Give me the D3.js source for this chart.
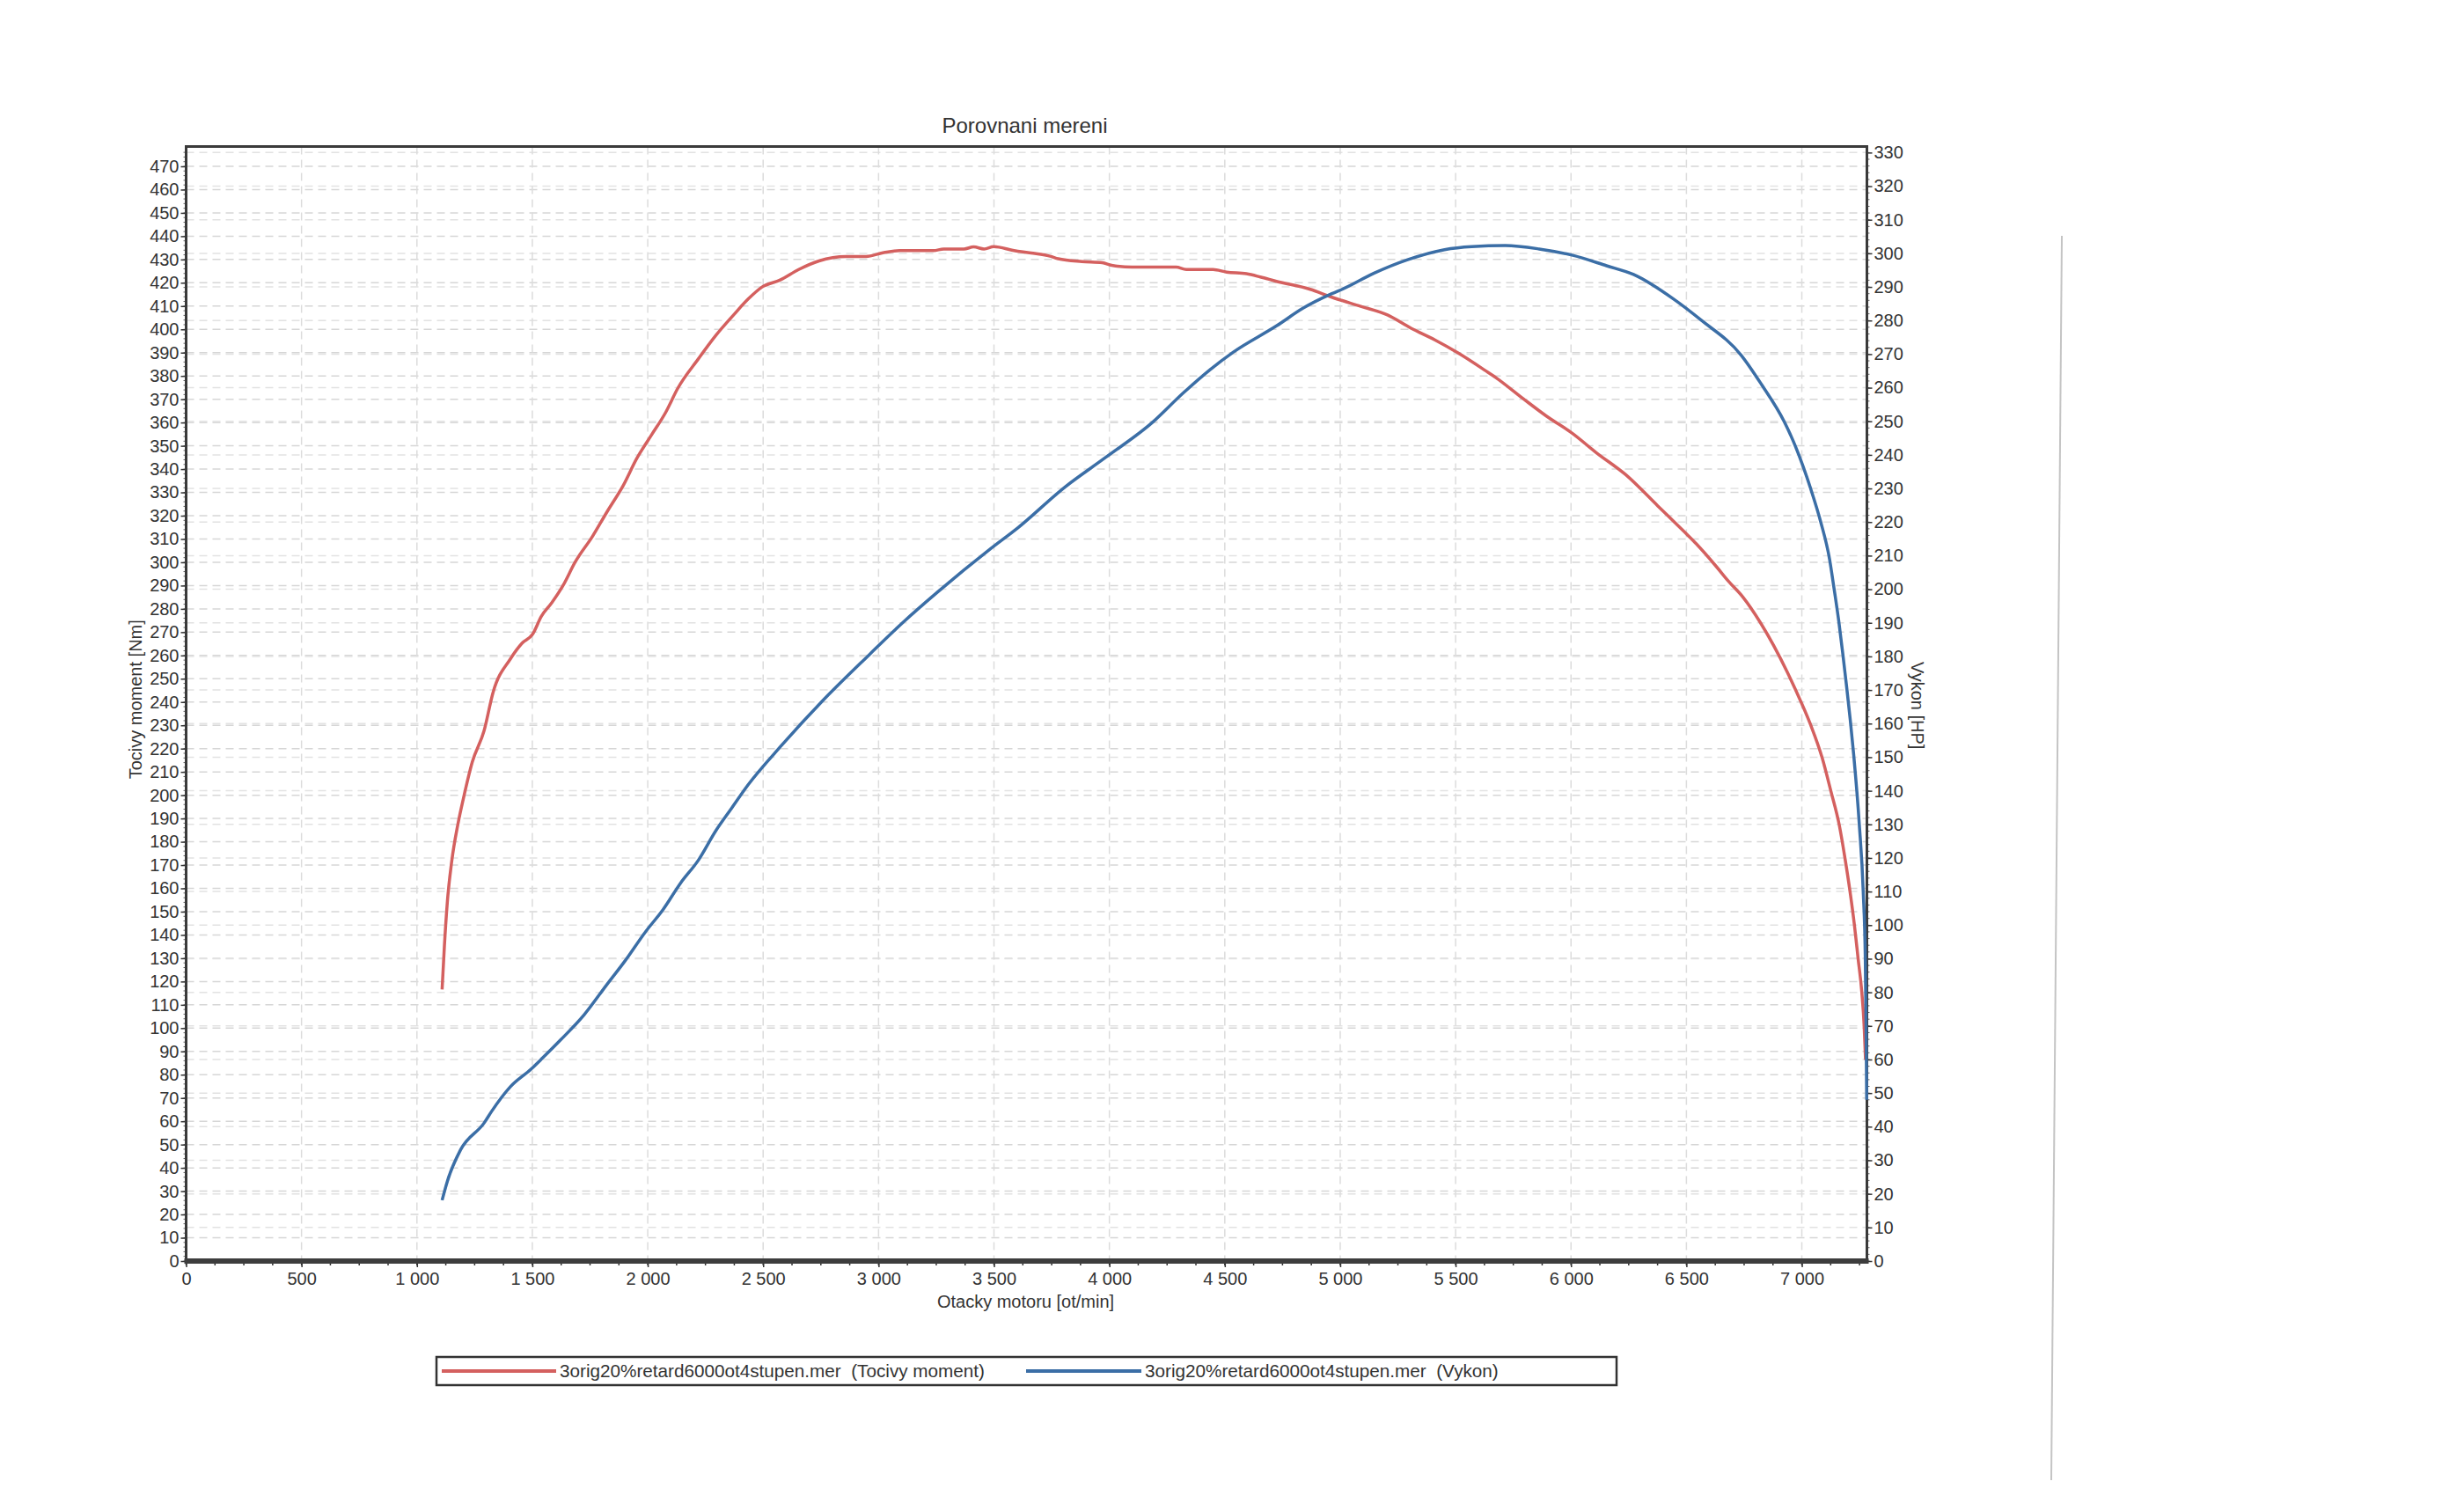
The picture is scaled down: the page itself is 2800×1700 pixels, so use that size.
<!DOCTYPE html>
<html>
<head>
<meta charset="utf-8">
<script src="https://cdn.jsdelivr.net/npm/d3@7"></script>
<style>
  html, body { margin: 0; padding: 0; background: #fff; }
  text { font-family: "Liberation Sans", Arial, sans-serif; fill: #333; }
</style>
</head>
<body>
<svg id="chart" width="2800" height="1700"></svg>
<script>
// ---------- data ----------
const chartTitle = "Porovnani mereni";
const xTitle = "Otacky motoru [ot/min]";
const leftTitle = "Tocivy moment [Nm]";
const rightTitle = "Vykon [HP]";
const legendTorque = "3orig20%retard6000ot4stupen.mer  (Tocivy moment)";
const legendPower = "3orig20%retard6000ot4stupen.mer  (Vykon)";

const xTickValues = [0,500,1000,1500,2000,2500,3000,3500,4000,4500,5000,5500,6000,6500,7000];
const leftTickValues = d3.range(0, 471, 10);
const rightTickValues = d3.range(0, 331, 10);

// Torque curve (rpm, Nm)
const torqueRpm = [1109,1119,1132,1151,1177,1202,1240,1291,1330,1405,1456,1501,1539,1584,1634,1685,1761,1825,1895,1952,2016,2079,2130,2219,2295,2372,2435,2494,2574,2654,2742,2859,2946,3019,3091,3238,3282,3370,3412,3457,3499,3587,3661,3747,3778,3881,3969,4010,4098,4289,4333,4449,4508,4594,4654,4724,4870,4964,5089,5205,5307,5410,5512,5629,5677,5792,5893,6008,6109,6237,6376,6440,6504,6542,6631,6681,6745,6821,6974,7037,7088,7126,7162,7187,7209,7228,7244,7260,7270,7276];
const torqueNm  = [116.6,135.3,154.5,171.8,187.3,198.9,214.3,227.7,244.2,258.5,265.3,269.1,276.8,282.6,290.2,300.0,311.2,321.9,333.2,344.5,354.6,364.6,374.7,387.3,397.4,406.2,413.0,418.1,421.2,425.7,429.4,431.3,431.3,432.9,433.8,433.8,434.5,434.5,435.4,434.5,435.5,433.8,432.8,431.3,430.3,429.1,428.6,427.5,426.7,426.7,425.7,425.7,424.6,423.9,422.5,420.6,417.2,413.8,409.9,406.2,400.5,395.5,389.8,382.3,379.1,370.3,362.8,355.2,347.1,337.6,324.2,318.0,311.8,308.0,298.0,292.0,285.0,274.0,245.0,230.5,216.1,201.7,187.3,172.9,158.5,144.1,129.7,115.3,100.9,86.4];

// Power curve (rpm, HP)
const powerRpm = [1109,1132,1189,1291,1323,1405,1494,1545,1622,1723,1825,1901,1990,2066,2143,2219,2295,2359,2435,2581,2756,2961,3107,3253,3486,3602,3807,3983,4187,4318,4435,4537,4724,4840,4964,5015,5147,5292,5452,5570,5715,5862,6008,6154,6271,6446,6562,6737,6825,6923,6961,7038,7082,7120,7139,7160,7178,7194,7210,7225,7249,7266,7275,7279,7281];
const powerHp  = [18.1,23.8,33.1,41.1,44.5,51.9,57.1,60.5,65.8,73.2,82.5,89.3,98.0,104.6,112.6,119.3,128.1,134.4,141.8,153.6,166.7,180.6,190.2,199.0,212.1,218.2,230.4,239.2,249.7,258.3,265.3,270.6,278.4,283.7,288.0,289.5,294.1,298.1,301.1,302.0,302.3,301.3,299.4,296.3,293.7,286.3,280.2,269.7,261.0,250.0,244.4,230.0,220.0,209.0,200.5,190.5,180.5,171.0,161.0,150.5,130.0,110.0,90.0,65.0,48.0];

// ---------- layout ----------
const svg = d3.select("#chart");
const L = 211.5, R = 2121.5, T = 166.5, B = 1433;
const ink = "#333";
const redC = "#d4605f", blueC = "#3b6ea6";

const x = d3.scaleLinear().domain([0, 7282]).range([L, R]);
const yL = d3.scaleLinear().domain([0, 478.5]).range([B, T]);
const yR = d3.scaleLinear().domain([0, 331.8]).range([B, T]);

svg.append("rect").attr("width", 2800).attr("height", 1700).attr("fill", "#fff");

// grid
const grid = svg.append("g").attr("stroke", "#d6d6d6").attr("stroke-width", 1.5).attr("stroke-dasharray", "9 6");
grid.selectAll("line.gl").data(leftTickValues.slice(1)).join("line")
  .attr("x1", L).attr("x2", R).attr("y1", d => yL(d)).attr("y2", d => yL(d));
grid.selectAll("line.gr").data(rightTickValues.slice(1)).join("line")
  .attr("x1", L).attr("x2", R).attr("y1", d => yR(d)).attr("y2", d => yR(d)).attr("stroke", "#e2e2e2");
grid.selectAll("line.gx").data(xTickValues.slice(1)).join("line")
  .attr("x1", d => x(d)).attr("x2", d => x(d)).attr("y1", T).attr("y2", B).attr("stroke", "#dcdcdc");

// minor ticks
const minorX = d3.range(0, 7282, 125);
svg.append("g").selectAll("line").data(minorX).join("line")
  .attr("x1", d => x(d)).attr("x2", d => x(d)).attr("y1", B).attr("y2", B + 5)
  .attr("stroke", ink).attr("stroke-width", 1.5);
svg.append("g").selectAll("line").data(d3.range(0, 478, 2)).join("line")
  .attr("x1", L - 3).attr("x2", L).attr("y1", d => yL(d)).attr("y2", d => yL(d))
  .attr("stroke", "#666").attr("stroke-width", 1);
svg.append("g").selectAll("line").data(d3.range(0, 331, 2)).join("line")
  .attr("x1", R).attr("x2", R + 3).attr("y1", d => yR(d)).attr("y2", d => yR(d))
  .attr("stroke", "#666").attr("stroke-width", 1);

// axes
const fmtLocale = d3.formatLocale({decimal: ".", thousands: " ", grouping: [3], currency: ["", ""]});
const fmtX = fmtLocale.format(",");

const gx = svg.append("g").attr("transform", `translate(0,${B})`)
  .call(d3.axisBottom(x).tickValues(xTickValues).tickFormat(fmtX).tickSize(7).tickPadding(6));
const gl = svg.append("g").attr("transform", `translate(${L},0)`)
  .call(d3.axisLeft(yL).tickValues(leftTickValues).tickSize(6).tickPadding(2));
const gr = svg.append("g").attr("transform", `translate(${R},0)`)
  .call(d3.axisRight(yR).tickValues(rightTickValues).tickSize(6).tickPadding(2));
[gx, gl, gr].forEach(g => {
  g.select(".domain").remove();
  g.selectAll(".tick line").attr("stroke", ink).attr("stroke-width", 1.5);
  g.selectAll(".tick text").attr("font-size", 20).attr("fill", ink)
    .style("font-family", '"Liberation Sans", Arial, sans-serif');
});

// frame
svg.append("rect").attr("x", L).attr("y", T).attr("width", R - L).attr("height", B - T)
  .attr("fill", "none").attr("stroke", "#3a3a3a").attr("stroke-width", 3);
svg.append("line").attr("x1", L - 2).attr("x2", R + 2).attr("y1", B).attr("y2", B)
  .attr("stroke", "#3d3d3d").attr("stroke-width", 6);

// curves
const lineT = d3.line().x((d, i) => x(torqueRpm[i])).y(d => yL(d)).curve(d3.curveMonotoneX);
const lineP = d3.line().x((d, i) => x(powerRpm[i])).y(d => yR(d)).curve(d3.curveMonotoneX);
svg.append("path").attr("d", lineT(torqueNm)).attr("fill", "none")
  .attr("stroke", redC).attr("stroke-width", 3.5).attr("stroke-linejoin", "round");
svg.append("path").attr("d", lineP(powerHp)).attr("fill", "none")
  .attr("stroke", blueC).attr("stroke-width", 3.5).attr("stroke-linejoin", "round");

// titles
svg.append("text").attr("x", (L + R) / 2 - 2).attr("y", 151).attr("text-anchor", "middle")
  .attr("font-size", 24).text(chartTitle);
svg.append("text").attr("x", (L + R) / 2 - 1).attr("y", 1486).attr("text-anchor", "middle")
  .attr("font-size", 20).text(xTitle);
svg.append("text").attr("transform", `translate(161,${(T + B) / 2 - 5}) rotate(-90)`)
  .attr("text-anchor", "middle").attr("font-size", 20).text(leftTitle);
svg.append("text").attr("transform", `translate(2172,${(T + B) / 2 + 2}) rotate(90)`)
  .attr("text-anchor", "middle").attr("font-size", 20).text(rightTitle);

// legend
const lg = svg.append("g");
lg.append("rect").attr("x", 496).attr("y", 1542).attr("width", 1341).attr("height", 32)
  .attr("fill", "#fff").attr("stroke", "#333").attr("stroke-width", 2.5);
lg.append("line").attr("x1", 502).attr("x2", 632).attr("y1", 1558).attr("y2", 1558)
  .attr("stroke", redC).attr("stroke-width", 4);
lg.append("text").attr("x", 636).attr("y", 1565).attr("font-size", 20.7)
  .style("white-space", "pre").text(legendTorque);
lg.append("line").attr("x1", 1166).attr("x2", 1297).attr("y1", 1558).attr("y2", 1558)
  .attr("stroke", blueC).attr("stroke-width", 4);
lg.append("text").attr("x", 1301).attr("y", 1565).attr("font-size", 20.7)
  .style("white-space", "pre").text(legendPower);

// scan edge line at right
svg.append("line").attr("x1", 2343).attr("y1", 268).attr("x2", 2331).attr("y2", 1682)
  .attr("stroke", "#c4c4c4").attr("stroke-width", 2);
</script>
</body>
</html>
